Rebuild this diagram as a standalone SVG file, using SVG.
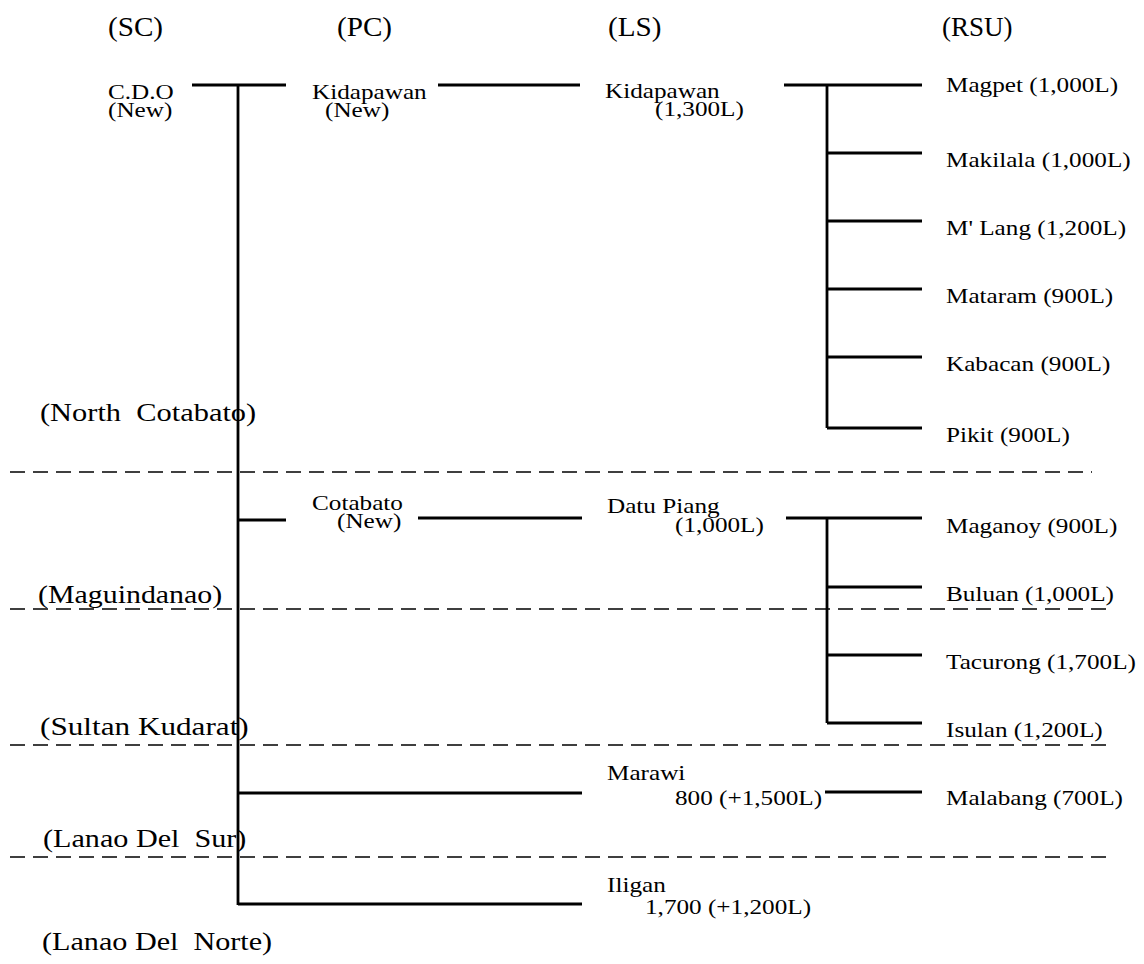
<svg xmlns="http://www.w3.org/2000/svg" width="1144" height="964" viewBox="0 0 1144 964">
  <style>
    text { font-family: "Liberation Serif", "Times New Roman", serif; fill: #000; }
    .hd { font-size: 27px; }
    .nm { font-size: 21px; }
    .rg { font-size: 26px; }
    .ln { stroke: #000; stroke-width: 2.8; fill: none; stroke-linecap: butt; }
    .ds { stroke: #000; stroke-width: 1.6; stroke-dasharray: 15 8; fill: none; }
  </style>
  <rect width="1144" height="964" fill="#fff"/>

  <!-- column headers -->
  <g id="headers">
    <text class="hd" transform="translate(108 36) scale(1.08 1)">(SC)</text>
    <text class="hd" transform="translate(337 36) scale(1.08 1)">(PC)</text>
    <text class="hd" transform="translate(608 36) scale(1.08 1)">(LS)</text>
    <text class="hd" transform="translate(942 36) scale(1.0 1)">(RSU)</text>
  </g>

  <!-- province boundaries -->
  <g id="boundaries">
    <line class="ds" x1="10" y1="472" x2="1092" y2="472"/>
    <line class="ds" x1="10" y1="609" x2="1112" y2="609"/>
    <line class="ds" x1="10" y1="745" x2="1112" y2="745"/>
    <line class="ds" x1="10" y1="857" x2="1112" y2="857"/>
  </g>

  <!-- province names -->
  <g id="regions">
    <text class="rg" xml:space="preserve" transform="translate(40 421) scale(1.17 1)">(North  Cotabato)</text>
    <text class="rg" transform="translate(38 603) scale(1.15 1)">(Maguindanao)</text>
    <text class="rg" transform="translate(40 735) scale(1.2 1)">(Sultan Kudarat)</text>
    <text class="rg" xml:space="preserve" transform="translate(43 847) scale(1.16 1)">(Lanao Del  Sur)</text>
    <text class="rg" xml:space="preserve" transform="translate(42 950) scale(1.16 1)">(Lanao Del  Norte)</text>
  </g>

  <!-- connectors -->
  <g id="connectors">
    <!-- SC trunk -->
    <line class="ln" x1="192" y1="85" x2="286" y2="85"/>
    <line class="ln" x1="238" y1="85" x2="238" y2="905"/>
    <line class="ln" x1="238" y1="520" x2="286" y2="520"/>
    <line class="ln" x1="238" y1="793" x2="582" y2="793"/>
    <line class="ln" x1="238" y1="904" x2="582" y2="904"/>
    <!-- PC to LS -->
    <line class="ln" x1="438" y1="85" x2="580" y2="85"/>
    <line class="ln" x1="418" y1="518" x2="582" y2="518"/>
    <!-- LS Kidapawan to RSU -->
    <line class="ln" x1="784" y1="85" x2="922" y2="85"/>
    <line class="ln" x1="827" y1="85" x2="827" y2="428"/>
    <line class="ln" x1="827" y1="153" x2="922" y2="153"/>
    <line class="ln" x1="827" y1="221" x2="922" y2="221"/>
    <line class="ln" x1="827" y1="289" x2="922" y2="289"/>
    <line class="ln" x1="827" y1="357" x2="922" y2="357"/>
    <line class="ln" x1="827" y1="428" x2="922" y2="428"/>
    <!-- LS Datu Piang to RSU -->
    <line class="ln" x1="786" y1="518" x2="922" y2="518"/>
    <line class="ln" x1="827" y1="518" x2="827" y2="723"/>
    <line class="ln" x1="827" y1="587" x2="922" y2="587"/>
    <line class="ln" x1="827" y1="655" x2="922" y2="655"/>
    <line class="ln" x1="827" y1="723" x2="922" y2="723"/>
    <!-- LS Marawi to RSU -->
    <line class="ln" x1="825" y1="792" x2="922" y2="792"/>
  </g>

  <!-- SC node -->
  <g id="sc-cdo">
    <text class="nm" transform="translate(108 99) scale(1.2 1)">C.D.O</text>
    <text class="nm" transform="translate(108 117) scale(1.2 1)">(New)</text>
  </g>

  <!-- PC nodes -->
  <g id="pc-kidapawan">
    <text class="nm" transform="translate(312 99) scale(1.2 1)">Kidapawan</text>
    <text class="nm" transform="translate(325 117) scale(1.2 1)">(New)</text>
  </g>
  <g id="pc-cotabato">
    <text class="nm" transform="translate(312 510) scale(1.2 1)">Cotabato</text>
    <text class="nm" transform="translate(337 528) scale(1.2 1)">(New)</text>
  </g>

  <!-- LS nodes -->
  <g id="ls-kidapawan">
    <text class="nm" transform="translate(605 98) scale(1.2 1)">Kidapawan</text>
    <text class="nm" transform="translate(655 116) scale(1.2 1)">(1,300L)</text>
  </g>
  <g id="ls-datu-piang">
    <text class="nm" transform="translate(607 513) scale(1.2 1)">Datu Piang</text>
    <text class="nm" transform="translate(675 532) scale(1.2 1)">(1,000L)</text>
  </g>
  <g id="ls-marawi">
    <text class="nm" transform="translate(607 780) scale(1.2 1)">Marawi</text>
    <text class="nm" transform="translate(675 805) scale(1.2 1)">800 (+1,500L)</text>
  </g>
  <g id="ls-iligan">
    <text class="nm" transform="translate(607 892) scale(1.2 1)">Iligan</text>
    <text class="nm" transform="translate(645 914) scale(1.2 1)">1,700 (+1,200L)</text>
  </g>

  <!-- RSU nodes -->
  <g id="rsu-magpet"><text class="nm" transform="translate(946 92) scale(1.2 1)">Magpet (1,000L)</text></g>
  <g id="rsu-makilala"><text class="nm" transform="translate(946 167) scale(1.2 1)">Makilala (1,000L)</text></g>
  <g id="rsu-mlang"><text class="nm" transform="translate(946 235) scale(1.2 1)">M' Lang (1,200L)</text></g>
  <g id="rsu-mataram"><text class="nm" transform="translate(946 303) scale(1.2 1)">Mataram (900L)</text></g>
  <g id="rsu-kabacan"><text class="nm" transform="translate(946 371) scale(1.2 1)">Kabacan (900L)</text></g>
  <g id="rsu-pikit"><text class="nm" transform="translate(946 442) scale(1.2 1)">Pikit (900L)</text></g>
  <g id="rsu-maganoy"><text class="nm" transform="translate(946 533) scale(1.2 1)">Maganoy (900L)</text></g>
  <g id="rsu-buluan"><text class="nm" transform="translate(946 601) scale(1.2 1)">Buluan (1,000L)</text></g>
  <g id="rsu-tacurong"><text class="nm" transform="translate(946 669) scale(1.2 1)">Tacurong (1,700L)</text></g>
  <g id="rsu-isulan"><text class="nm" transform="translate(946 737) scale(1.2 1)">Isulan (1,200L)</text></g>
  <g id="rsu-malabang"><text class="nm" transform="translate(946 805) scale(1.2 1)">Malabang (700L)</text></g>
</svg>
